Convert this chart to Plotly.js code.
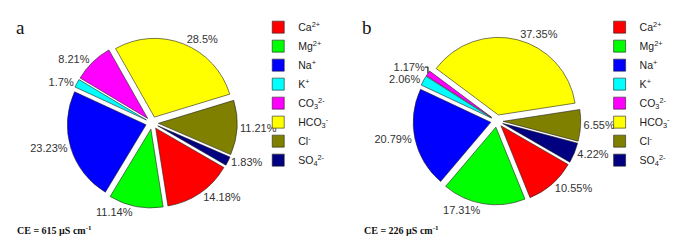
<!DOCTYPE html>
<html>
<head>
<meta charset="utf-8">
<script src="https://cdn.plot.ly/plotly-3.0.1.min.js"></script>
<style>html,body{margin:0;padding:0;background:#fff;}#chart{width:676px;height:243px;}</style>
</head>
<body>
<div id="chart"></div>
<script>
const ions = ["Ca<sup>2+</sup>", "Mg<sup>2+</sup>", "Na<sup>+</sup>", "K<sup>+</sup>", "CO<sub>3</sub><sup>2-</sup>", "HCO<sub>3</sub><sup>-</sup>", "Cl<sup>-</sup>", "SO<sub>4</sub><sup>2-</sup>"];
const valuesA = [14.18, 11.14, 23.23, 1.7, 8.21, 28.5, 11.21, 1.83];
const valuesB = [10.55, 17.31, 20.79, 2.06, 1.17, 37.35, 6.55, 4.22];
const labelsA = ["14.18%", "11.14%", "23.23%", "1.7%", "8.21%", "28.5%", "11.21%", "1.83%"];
const labelsB = ["10.55%", "17.31%", "20.79%", "2.06%", "1.17%", "37.35%", "6.55%", "4.22%"];
const colors = ["#ff0000", "#00ff00", "#0000ff", "#00ffff", "#ff00ff", "#ffff00", "#808000", "#000080"];

// pie legend items are keyed by label; a zero-width suffix keeps panel b's entries separate
function pieTrace(vals, txt, dom, leg, suffix) {
  return {
    type: "pie",
    labels: ions.map(s => s + suffix),
    values: vals,
    text: txt,
    textinfo: "text",
    textposition: "outside",
    textfont: {family: "Liberation Sans, Arial, sans-serif", size: 11, color: "#333"},
    sort: false,
    direction: "clockwise",
    rotation: 120,
    pull: vals.map(() => 0.08),
    marker: {colors: colors, line: {color: "#222", width: 0.6}},
    domain: dom,
    legend: leg,
    hoverinfo: "none"
  };
}

const data = [
  pieTrace(valuesA, labelsA, {x: [0.099, 0.351], y: [0.144, 0.844]}, "legend", ""),
  pieTrace(valuesB, labelsB, {x: [0.611, 0.859], y: [0.156, 0.848]}, "legend2", "\u200b")
];

const legFont = {family: "Liberation Sans, Arial, sans-serif", size: 10.5, color: "#222"};
const layout = {
  width: 676, height: 243,
  margin: {l: 0, r: 0, t: 0, b: 0, autoexpand: false},
  paper_bgcolor: "#fff",
  showlegend: true,
  legend: {x: 0.382, y: 0.948, xanchor: "left", yanchor: "top", font: legFont, bgcolor: "rgba(0,0,0,0)", tracegroupgap: 0},
  legend2: {x: 0.887, y: 0.948, xanchor: "left", yanchor: "top", font: legFont, bgcolor: "rgba(0,0,0,0)", tracegroupgap: 0},
  annotations: [
    {text: "a", x: 0.03, y: 0.885, xref: "paper", yref: "paper", xanchor: "center", yanchor: "middle", showarrow: false, font: {family: "Liberation Serif, Times New Roman, serif", size: 19, color: "#111"}},
    {text: "b", x: 0.543, y: 0.885, xref: "paper", yref: "paper", xanchor: "center", yanchor: "middle", showarrow: false, font: {family: "Liberation Serif, Times New Roman, serif", size: 19, color: "#111"}},
    {text: "<b>CE = 615 µS cm<sup>-1</sup></b>", x: 0.022, y: 0.055, xref: "paper", yref: "paper", xanchor: "left", yanchor: "middle", showarrow: false, font: {family: "Liberation Serif, Times New Roman, serif", size: 10, color: "#111"}},
    {text: "<b>CE = 226 µS cm<sup>-1</sup></b>", x: 0.535, y: 0.055, xref: "paper", yref: "paper", xanchor: "left", yanchor: "middle", showarrow: false, font: {family: "Liberation Serif, Times New Roman, serif", size: 10, color: "#111"}}
  ]
};

Plotly.newPlot("chart", data, layout, {staticPlot: true, displayModeBar: false});
</script>
</body>
</html>
